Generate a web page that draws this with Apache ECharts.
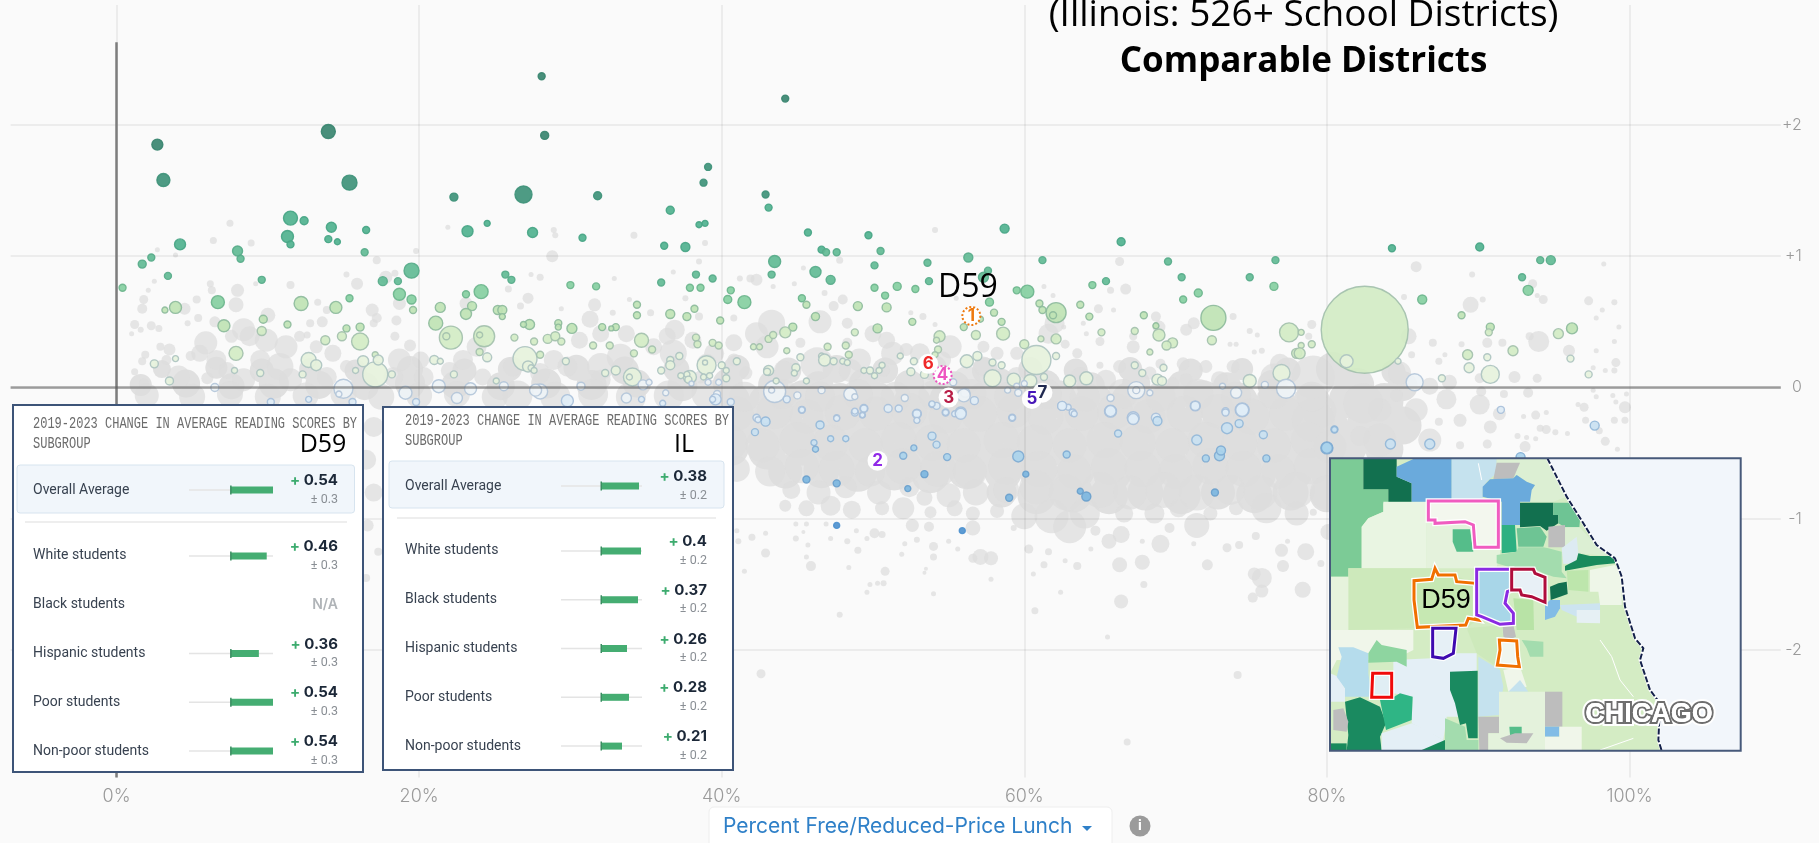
<!DOCTYPE html>
<html><head><meta charset="utf-8">
<style>html,body{margin:0;padding:0;background:#fafafa;overflow:hidden}#c{width:1819px;height:843px}</style>
<script src="https://cdn.jsdelivr.net/npm/echarts@6/dist/echarts.min.js"></script>
</head><body><div id="c"></div>
<script>
// ---- DATA (percent free/reduced lunch, change in score, bubble size) ----
const xTicks=[0,20,40,60,80,100];
const yTicks=[-2,-1,0,1,2];
const denseDistricts=[
[40.6,-.1,38],[43,-.12,38],[45.4,-.09,38],[47.8,-.11,38],[50.2,-.1,38],[52.6,-.12,38],[55,-.09,38],[57.4,-.1,38],[59.8,-.12,38],[62.2,-.09,38],[64.6,-.11,38],[67,-.1,38],[69.4,-.12,38],[71.8,-.09,38],[74.2,-.11,38],[76.6,-.1,38],[79,-.12,38],[81.4,-.09,38],[83.8,-.11,38],
[41.8,-.28,38],[44.2,-.3,38],[46.6,-.27,38],[49,-.29,38],[51.4,-.28,38],[53.8,-.3,38],[56.2,-.27,38],[58.6,-.28,38],[61,-.3,38],[63.4,-.27,38],[65.8,-.29,38],[68.2,-.28,38],[70.6,-.3,38],[73,-.27,38],[75.4,-.29,38],[77.8,-.28,38],[80.2,-.3,38],[82.6,-.27,38],[85,-.29,38],
[40.6,-.46,36],[43,-.48,38],[45.4,-.45,38],[47.8,-.47,38],[50.2,-.46,38],[52.6,-.48,38],[55,-.45,38],[57.4,-.46,38],[59.8,-.48,38],[62.2,-.45,38],[64.6,-.47,38],[67,-.46,38],[69.4,-.48,38],[71.8,-.45,38],[74.2,-.47,38],[76.6,-.46,38],[79,-.48,38],[81.4,-.45,38],[83.8,-.47,38],
[44.2,-.64,34],[46.6,-.63,36],[49,-.65,38],[51.4,-.64,38],[53.8,-.66,38],[56.2,-.63,38],[58.6,-.64,38],[61,-.66,38],[63.4,-.63,38],[65.8,-.65,38],[68.2,-.64,38],[70.6,-.66,38],[73,-.63,38],[75.4,-.65,38],[77.8,-.64,38],[80.2,-.66,38],
[58.5,-.8,30],[60.8,-.82,38],[63.2,-.8,40],[65.6,-.82,38],[68,-.8,36],[70.4,-.82,38],[72.8,-.8,34],[75.2,-.82,36],[77.6,-.8,36],[80,-.82,34],
[1.6,.02,22],[4.6,.03,28],[7.6,.01,26],[10.4,.03,30],[13.4,.02,28],[16.4,.01,28],[19.4,.03,30],[22.4,.02,28],[25.4,.01,28],[28.4,.03,30],[31.4,.02,30],[34.4,.03,28],[37.4,.01,30],[40.4,.03,30],[43.4,.02,30],[46.4,.01,30],[49.4,.03,30],[52.4,.02,30],[55.4,.01,30],[58.4,.03,30],[61.4,.02,30],[64.4,.01,28],[67.4,.03,28],[70.4,.02,28],[73.4,.01,28],[76.4,.02,30],[82,.02,34],[85,.01,30],
[3,.14,18],[6.6,.15,22],[9.6,.13,24],[12.8,.14,22],[15.8,.13,22],[19.4,.14,26],[23,.13,24],[26,.14,24],[30.4,.15,26],[33.6,.13,28],[37,.14,26],[41,.15,26],[44.4,.13,26],[47.6,.14,28],[50.8,.13,26],[54,.15,26],[57.4,.13,26],[60.4,.14,24],[63.4,.13,24],[67,.14,24],[71,.13,24],[74.4,.14,22],[77.4,.13,26],[80.4,.14,34],[84.4,.12,24]
];
const otherDistricts=[
[41,-.2,34],[43.5,-.18,36],[45.6,-.22,34],[48,-.19,36],[50.2,-.2,34],[52.4,-.18,36],[54.8,-.22,34],[57,-.2,36],[59.3,-.18,34],[61.4,-.22,36],[63.8,-.2,34],[66,-.18,36],[68.2,-.22,34],[70.6,-.2,36],[72.8,-.18,34],[75,-.22,36],[77.3,-.2,34],[79.5,-.18,34],
[40.5,-.42,36],[42.7,-.44,34],[45,-.4,36],[47.2,-.42,36],[49.5,-.44,34],[51.7,-.4,36],[53.9,-.42,36],[56,-.44,34],[58.5,-.4,36],[60.7,-.42,36],[63,-.44,34],[65.3,-.4,36],[67.5,-.42,36],[69.8,-.44,34],[72,-.4,36],[74.2,-.42,36],[76.5,-.44,34],[78.8,-.4,36],
[41,-.62,26],[43.2,-.64,30],[45.3,-.6,34],[47.6,-.62,36],[49.8,-.64,30],[52,-.6,36],[54.3,-.62,36],[56.4,-.64,34],[58.8,-.6,36],[61,-.62,36],[63.3,-.64,34],[65.6,-.6,36],[67.8,-.62,36],[70,-.64,34],[72.3,-.6,36],[74.5,-.62,36],[76.8,-.64,34],[79,-.6,36],
[44.6,-.78,18],[46.4,-.8,24],[48.2,-.76,22],[50.4,-.8,24],[52.4,-.76,20],[53.4,-.84,16],[55,-.82,24],[56.8,-.8,26],[58.8,-.78,26],[60.8,-.76,34],[62.8,-.8,36],[65,-.78,36],[67,-.8,34],[69.2,-.78,36],[71.4,-.8,36],[73.6,-.78,30],[75.6,-.8,34],[78,-.78,36],[80,-.8,34],
[44.2,-.9,12],[45.6,-.92,16],[47.2,-.9,20],[48.6,-.93,18],[50.6,-.92,14],[52,-.92,22],[53.8,-.95,12],[55.4,-.92,16],[56.6,-.96,14],[58.2,-.94,14],[60,-.98,26],[61.8,-.98,34],[64,-.96,30],[66.6,-.96,18],[68.6,-.96,20],[70.2,-.92,18],[72.3,-.96,14],[74,-.92,14],[76,-.92,30],[78,-.96,24],
[44.9,-1.04,5],[45.6,-1.04,5],[46.9,-1.04,5],[45.4,-1.1,4],[44.9,-1.15,6],[47.2,-1.15,5],[48.3,-1.17,6],[49,-1.24,7],[45.7,-1.2,5],[45.6,-1.29,5],[42.9,-1.26,9],[42,-1.14,7],[42.9,-1.11,5],[41.1,-1.17,6],[41,-1.09,5],[45.9,-1.36,10],[41.5,-1.4,5],[48.4,-1.37,5],[50.8,-1.4,9],[53.5,-1.38,4],[53.4,-1.41,4],[50.7,-1.49,6],[50.3,-1.49,5],[49.8,-1.5,5],[49.6,-1.56,5],[54,-1.57,5],[57.8,-1.46,5],[47.8,-1.73,6],[60.7,-1.7,7],[62.4,-1.56,5],[60.6,-1.42,5],[61.3,-1.35,7],[61.6,-1.25,7],[62.7,-1.32,5],[63.5,-1.36,8],[64.4,-1.23,5],[60.3,-1.23,9],[66.3,-1.35,15],[67.8,-1.33,15],[67.9,-1.5,7],[66.4,-1.63,14],[65.5,-1.9,5],[72.1,-1.35,11],[69,-1.19,18],[66.4,-1.12,17],[65.6,-1.17,15],[67.8,-1.17,5],[71.2,-1.19,5],[73.4,-1.22,9],[74.2,-1.2,8],[75.3,-1.13,8],[77,-1.24,13],[77.4,-1.17,5],[78.6,-1.25,17],[79.6,-1.34,7],[77.1,-1.36,12],[75.7,-1.45,20],[75.2,-1.42,13],[75.7,-1.55,13],[75.1,-1.6,10],[78.4,-1.54,16],[71.4,-1.05,25],[69.6,-1.07,10],[42.6,-2.18,9],[74.1,-2.19,8],[66.8,-2.7,7],[57.1,-1.29,16],[57.8,-1.3,14],[56.6,-1.3,9],[54,-1.21,9],[54,-1.29,7],[52.9,-1.16,6],[52.1,-1.19,5],[51.9,-1.27,5],[55,-1.17,5],[55.6,-1.23,5],[56.6,-1.07,15],[53.7,-1.06,10],[52.6,-1.05,13],[50.1,-1.11,10],[50.6,-1.12,7],[49.6,-1.15,5],[48.9,-1.09,5],[59.3,-1.07,6],[63,-1.06,33],[64.7,-1.09,10],[79.1,-.95,7],[80.1,-1.1,16],
[85.9,.92,11],[89.6,.86,6],[85.1,.69,6],[89.5,.63,16],[90.3,.67,6],[97.3,.66,9],[99,.65,6],[98.2,.59,5],[97.8,.53,5],[99.3,.46,5],[99,.35,5],[98.3,.94,5],[93.6,.79,9],[94.3,.67,9],[93.9,.7,5],[94,.35,21],[93.4,.39,8],[96,.28,12],[97.8,.28,5],[99.1,.19,9],[99,.13,6],[98.4,.13,5],[97.6,.15,5],[90.6,.34,10],[91.6,.34,8],[88.9,.33,6],[87,.34,8],[85.6,.25,7],[87.8,.25,5],[87.4,.2,7],[92.4,.08,12],[93.9,.07,9],[90.1,.07,10],[88.1,.04,15],[86.8,.01,17],[90.2,-.03,10],[91.7,-.05,8],[93.3,-.04,10],[97.6,-.02,5],[97.8,-.07,5],[98.9,-.06,5],[99.8,-.05,5],[99.1,-.11,5],[99.7,-.15,12],[96.6,-.13,5],[97,-.15,9],[99,-.25,7],[99.7,-.25,7],[97.1,-.25,7],[94.5,-.19,5],[93.8,-.21,9],[93,-.22,5],[94.1,-.31,7],[94.5,-.32,9],[95.1,-.34,6],[95.9,-.35,5],[98,-.33,7],[98.4,-.41,9],[99.2,-.47,5],[92.6,-.37,6],[93.2,-.38,5],[93.8,-.39,5],[93.1,-.45,11],[90.6,-.43,9],[90.8,-.3,13],[88.8,-.25,13],[90.1,-.13,20],[91.4,-.2,13],[88.8,-.44,8],[87.9,-.09,20],[85.9,-.17,23],[87.4,-.26,8],[86.8,-.4,23],[84.6,-.06,13],[83.5,-.17,23],[79.1,.08,43],[82.4,-.12,40],[79.1,-.25,43],[83.5,-.4,33],[80.2,-.45,33],[82.2,-.37,20],[84.8,.11,23],[85.4,.39,16],[79,.48,9],[78.8,.39,7],
[54.1,1.2,6],[66.3,.96,9],[61.3,.77,5],[66.7,.75,11],[65.7,.74,7],[61.9,.7,5],[64.9,.6,9],[65.9,.59,5],[52.5,.57,5],[53.3,.54,7],[55.5,.68,5],[54.1,.48,5],[63.9,.49,5],[62,.49,20],[61.6,.41,20],[62.6,.46,5],[64.1,.41,5],[65,.35,9],[62.7,.33,9],[63.5,.26,10],[67.2,.31,13],[67.2,.39,8],[68.7,.54,10],[68.9,.46,13],[70.7,.44,12],[71.2,.49,12],[73.8,.54,7],[73.6,.33,5],[74,.33,5],[74.9,.43,6],[75.4,.4,5],[75.2,.27,5],[75.7,.28,6],[55.1,.31,23],[57.3,.31,12],[58.2,.26,13],[53.1,.26,20],[59.5,.26,13],[57.3,.16,20],[54.6,.21,17],[52.2,.29,13],[65,.17,7],[66.3,.16,13],[65.4,.06,20],[70.5,.18,13],[72,.16,13],[73.8,.16,13],[70.7,.06,13],[72.9,.06,17],[68.3,.11,13],[69,.18,10],[69.8,.03,13],[63.7,.08,20],[59.5,.08,20],[56.2,.06,27],[54,.08,23],[76.5,.08,27],[76.9,.18,20],
[28.8,1,12],[28.9,1.2,6],[29,1.16,6],[34.2,1.16,7],[38.9,1.1,6],[38.5,.96,6],[36.8,.88,5],[27.4,.86,5],[28,.84,7],[32.9,.83,5],[25.9,.75,7],[27.2,.68,11],[26.7,.62,7],[33.9,.67,5],[29.4,.6,5],[31.6,.63,13],[31.3,.52,17],[32.8,.57,6],[35.3,.57,7],[37.6,.68,6],[38.5,.54,8],[36.9,.44,20],[36.4,.39,17],[33.7,.41,17],[32,.41,17],[30.6,.36,17],[28.9,.21,20],[40.8,.53,7],[42.3,.82,12],[41.9,.83,8],[41.2,.83,6],[43.3,.49,27],[42.3,.41,23],[43,.31,23],[40.8,.34,17],[39.5,.26,20],[46.5,.5,23],[47.4,.62,10],[48,.67,10],[47.8,.97,7],[45.4,.91,5],[44.8,.79,5],[43.4,.77,5],[46.8,.72,6],[48.3,.49,11],[50,.41,17],[50.9,.36,17],[48.3,.34,10],[45.2,.34,10],[38.1,.36,17],[35.5,.31,17],[33.3,.23,27],[32,.16,27],[36.8,.26,27],[39,.18,20],[40.8,.21,13],[46.3,.18,33],[49.1,.21,23],[51.3,.26,23],[44.1,.13,20],[48.5,.13,23],[50.7,.13,13],[41.6,.11,13],[38.6,.08,13],[32,.06,20],[29.8,.16,20],[28,.11,20],[26.2,.16,20],
[7.5,1.25,7],[6.4,1.12,7],[8.9,1.1,7],[2.7,1.05,5],[3.9,1.01,5],[19.8,1.04,6],[17.2,.97,8],[15.2,.86,6],[15.9,.79,12],[17.8,.84,13],[18.4,.87,7],[21.9,1.22,5],[2.5,.81,5],[6.2,.79,7],[6.3,.74,8],[8,.74,13],[9.2,.79,5],[11.5,.78,8],[2.1,.74,5],[1.8,.67,9],[1.7,.6,10],[5.3,.67,8],[4.5,.6,12],[7.9,.63,15],[10,.55,15],[13.3,.65,7],[13.9,.59,8],[16.9,.59,13],[17.2,.53,10],[18.5,.51,10],[18.7,.64,13],[5.4,.53,8],[1.2,.48,9],[1.6,.44,6],[1,.41,5],[2.3,.47,9],[2.8,.45,7],[4.7,.49,6],[6.5,.5,11],[12.8,.49,8],[13.6,.5,11],[12.1,.39,11],[12.6,.4,7],[17,.49,8],[18.4,.39,9],[19.4,.32,12],[8.4,.44,23],[8.8,.39,20],[7.6,.39,13],[5.9,.34,23],[5.5,.26,17],[6.6,.21,20],[3.5,.29,12],[2.9,.31,8],[1.9,.25,8],[1.7,.2,8],[1.2,.12,7],[4.1,.08,23],[3.3,.21,10],[6,.07,12],[1.8,.03,10],[4.9,.24,10],[9.9,.36,23],[11.2,.31,23],[9.5,.21,20],[10.8,.16,27],[13.2,.31,13],[14.3,.26,17],[11.5,.06,23],[8.4,.06,23],[7.3,.13,17],[13.9,.08,20],[15.2,.16,13],[18.7,.21,23],[18.3,.08,20],[20.1,.21,17],[20.3,.08,20],[22.9,.21,20],[23.1,.64,13],[23.8,.31,20],[22,.13,17],[24.2,.08,17],
[2,-.06,24],[5,-.07,26],[7.5,-.05,26],[10,-.07,26],[12.5,-.06,26],[15,-.05,26],[17.5,-.07,26],[20,-.06,26],[22.5,-.05,26],[25,-.07,26],[26.5,-.06,30],[29,-.07,30],[31.5,-.05,30],[34,-.07,30],[36.5,-.06,30],[39,-.05,30],[41.5,-.07,30],[44,-.05,30],[46.5,-.07,30],[49,-.05,30],[51.5,-.07,30],[54,-.06,30],[56.5,-.05,30],[59,-.07,30],[61.5,-.05,30],[64,-.07,30],[66.5,-.05,30],[69,-.07,30],[71.5,-.05,30],[74,-.07,30],[76.5,-.05,30],[79,-.07,30],
[17,-.3,20],[16.5,-.55,20],[17,-.8,18],[16.6,-1.05,12],[17.3,-1.25,8],[16.5,-1.45,8]
];
const illinoisDistricts=[
[2.7,1.85,11],[3.1,1.58,13],[14,1.95,14],[15.4,1.56,15],[28.1,2.37,7],[28.3,1.92,8],[44.2,2.2,7],[39.1,1.68,7],[38.8,1.56,7],[42.9,1.47,7],[43.1,1.37,7],[26.9,1.47,17],[22.3,1.45,8],[31.8,1.46,8],[36.6,1.35,8],
[11.5,1.29,14],[12.4,1.27,8],[14.2,1.22,10],[16.5,1.2,7],[11.3,1.15,12],[11.5,1.09,7],[14,1.13,7],[14.6,1.11,6],[16.4,1.03,7],[4.2,1.09,11],[2.3,.99,7],[1.7,.94,8],[8,1.04,10],[8.2,.98,7],[.4,.76,7],[3.4,.85,7],[9.6,.82,7],
[17.6,.81,9],[18.6,.81,7],[19.5,.89,15],[18.7,.71,12],[19.5,.67,9],[19.6,.59,7],[15.4,.68,7],[14.5,.61,12],[12.2,.64,14],[6.7,.65,13],[3.9,.61,12],[3.2,.59,6],[7.1,.47,12],[9.7,.52,8],[9.6,.43,9],[11.3,.48,7],[7.9,.26,14],[3.9,.22,6],[2.5,.18,8],[3.5,.05,8],[7.8,.13,6],[9.5,.11,7],[6.5,0,8],[13.8,.36,9],[15.2,.45,7],[16.1,.46,8],[14.9,.39,9],[16.1,.35,17],[12.7,.21,15],[13.2,.17,11],[12.3,.1,7],[16.3,.2,11],[17.1,.25,6],[17.3,.21,10],[17.1,.1,25],[18.2,.1,7],[15.8,.13,6],[15,-.01,19],[14.7,-.05,6],[15.6,-.11,7],[19.1,-.04,13],[19.8,-.11,7],[12.7,-.09,6],[10.2,-.11,7],
[21.4,.61,10],[21.1,.49,14],[22.1,.38,23],[21.8,.39,7],[24.3,.39,21],[24,.4,6],[21,.21,9],[21.4,.2,6],[24,.27,7],[24.5,.23,9],[22.3,.1,7],[21.3,.01,13],[23.4,-.01,12],[22.5,-.08,11],[25.1,.05,6],[24.1,.73,14],[23.1,.71,7],[23.5,.62,9],[23.1,.56,11],[25.2,.59,9],
[23.2,1.19,11],[24.5,1.25,6],[27.5,1.18,10],[30.8,1.14,7],[38.5,1.24,6],[38.9,1.25,6],[36.2,1.08,7],[37.6,1.07,9],[25.7,.86,7],[26.1,.82,7],[30,.78,7],[31.7,.77,7],[36,.8,7],[38.3,.86,7],[39.4,.83,7],[37.9,.76,7],[38.6,.76,7],[40.6,.74,7],[40.4,.67,8],[41.5,.65,13],[43.5,.96,12],[43.3,.86,7],[45.7,1.18,7],[46.6,1.05,7],[46.9,1.03,7],[47.6,1.03,7],[49.7,1.16,7],[50.5,1.04,7],[50.1,.93,7],[46.2,.88,11],[47.2,.82,9],[50.1,.76,7],[51.6,.77,8],[50.8,.7,7],[50.9,.61,9],[49,.62,9],[45.3,.68,7],[45.6,.63,7],[46.2,.54,8],[34.4,.63,7],[34.4,.55,7],[36.6,.56,9],[37.7,.54,8],[38.2,.6,7],[39.9,.51,7],[25.5,.59,9],[25.5,.54,6],[27.3,.48,10],[26.9,.48,6],[29.2,.49,7],[29.2,.46,6],[30.1,.45,10],[32.1,.46,7],[33,.46,7],[32.7,.45,5],[26.3,.38,7],[27.6,.35,7],[28.5,.37,9],[29,.39,9],[29.4,.35,7],[34.7,.36,14],[31.5,.32,7],[32.6,.32,7],[27,.22,24],[27.2,.16,11],[28,.25,7],[29.7,.2,7],[27.4,.15,6],[27.6,.13,6],[34.2,.26,7],[35.4,.29,7],[38.3,.38,7],[38.4,.33,7],[39.4,.34,7],[39.8,.32,7],[37.2,.24,7],[36.6,.21,7],[36.6,.17,9],[39,.17,19],[38.9,.19,5],[33,.13,9],[32.3,.11,7],[34.1,.08,18],[33.9,.08,6],[36,.13,7],[34.8,.02,10],[35.2,.04,6],[30.7,.01,8],[28,-.03,15],[27.7,-.02,12],[25.6,.01,9],[29.8,-.1,12],[33.7,-.08,10],[36.3,-.04,6],[34.7,-.09,6],[36.1,-.12,6],[37.9,.08,13],[37.7,.1,6],[37.3,.09,6],[37.8,.06,7],[38.8,.08,6],[39.2,.09,6],[39.1,.04,6],[39.8,.04,6],[40,.17,7],[40.3,.13,6],[40.3,.07,7],[38,.03,5],[39.7,-.05,7],[39.6,-.09,11],[39.4,-.09,6],[40.6,-.11,7],
[41,.2,7],[42.1,.31,6],[42.5,.31,6],[43.1,.37,7],[43.4,.4,7],[44.2,.42,11],[44.7,.46,8],[44.3,.28,6],[45.2,.23,7],[43.1,.13,10],[43,.12,7],[44.9,.15,8],[44.8,.11,6],[45.6,.05,6],[43.5,-.03,22],[43.6,.05,6],[43.3,-.02,6],[45,-.06,7],[44.3,-.09,7],[46.6,-.02,7],[48.5,-.05,13],[48.8,-.07,6],[45.3,-.17,7],[46.6,.24,6],[46.8,.21,12],[47,.31,7],[47.4,.2,7],[48.2,.32,7],[48.4,.25,7],[48,.2,6],[48.3,.19,6],[48.8,.42,7],[50.3,.45,9],[49.4,.13,6],[49.8,.13,7],[50.1,.09,6],[50.4,.13,6],[50.6,.17,6],[48.8,-.19,7],[49.4,-.16,8],[49.3,-.21,6],[51,-.16,8],[47.6,-.23,6],[42.3,-.23,7],[42.9,-.25,7],
[58.7,1.21,9],[66.4,1.11,8],[56.3,.99,9],[53.6,.95,7],[61.2,.97,7],[69.5,.96,7],[76.6,.97,7],[57.6,.89,7],[70.4,.84,7],[74.9,.84,7],[76.5,.77,8],[57.3,.84,10],[53.7,.81,7],[52.8,.75,7],[59.5,.74,7],[60.2,.73,13],[64.5,.78,7],[65.4,.81,7],[71.5,.72,8],[70.5,.67,7],[57.7,.65,8],[61,.64,7],[61.2,.59,7],[62.1,.57,20],[61.9,.55,7],[63.7,.63,7],[64.3,.54,7],[67.9,.55,7],[72.5,.53,25],[58,.57,7],[58.5,.5,7],[57.1,.52,6],[52.6,.5,7],[56,.46,7],[56.8,.4,9],[58.6,.41,13],[54.4,.39,11],[54.2,.36,6],[54.3,.29,7],[54.1,.25,6],[65.1,.42,7],[67.3,.43,7],[68.7,.47,6],[68.9,.4,12],[69.8,.34,10],[69.4,.32,9],[72.4,.36,9],[77.5,.42,19],[61.1,.37,6],[62.1,.37,10],[60,.33,9],[60.8,.21,29],[62.1,.24,7],[56.9,.24,9],[56.2,.2,13],[57.9,.19,7],[58.5,.17,7],[57.9,.07,17],[59.3,.06,13],[60.4,.05,13],[61.3,.08,7],[63,.05,12],[64.1,.07,13],[68.3,.27,6],[67.3,.17,7],[67.8,.11,7],[69.2,.15,7],[68.8,.06,11],[69.1,.05,9],[67.4,-.02,17],[67.4,-.02,7],[68.3,-.04,6],[73.1,.01,6],[74.9,.05,13],[75.9,.02,7],[74,-.04,11],[77,.11,17],[77.3,-.01,19],[78,.26,10],[51.8,.24,6],[52.7,.2,7],[52.5,.12,8],[53.4,.1,8],[55.3,.04,7],[56.1,-.04,9],[56,-.06,13],[56.7,-.1,8],[52.1,-.08,7],[53.9,-.13,6],[54.2,-.14,7],[54.8,-.19,7],[52.9,-.2,9],[55.8,-.19,11],[55.4,-.2,6],[58.9,-.02,6],[59.5,.01,6],[60,.03,6],[59.6,-.04,7],[59.2,-.23,7],[62.5,-.14,9],[62.9,-.15,6],[63.2,-.19,7],[65.7,-.08,7],[65.7,-.18,12],[71.3,-.14,10],[73.3,-.18,7],[74.4,-.17,14],[67.2,-.23,12],[68.7,-.23,9],
[84.3,1.06,7],[90.1,1.07,8],[94.1,.97,7],[94.8,.97,9],[92.9,.84,7],[93.3,.74,10],[86.3,.67,9],[88.9,.55,7],[90.8,.46,8],[90.7,.42,7],[96.2,.45,11],[95.3,.41,10],[92.3,.28,10],[89.3,.25,10],[90.6,.23,7],[89.4,.15,10],[90.8,.1,18],[96.1,.22,7],[97.3,.1,7],[87.6,.07,7],[85.8,.04,17],[82.5,.44,87],[81.3,.2,13],[84.7,.2,6],[78.3,.42,6],[79,.33,7],[78.3,.32,6],[78.2,.26,11],[91.5,-.17,7],[97.7,-.29,9],[80.5,-.32,7],[80,-.46,12],[84.2,-.43,10],[86.8,-.43,10],[92.8,-.53,9],
[42.4,-.245,6],[42.9,-.26,9],[42.2,-.34,7],[45.3,-.17,6],[46.5,-.285,8],[47.6,-.235,6],[48.8,-.18,6],[49.4,-.16,7],[49.3,-.21,5],[51.7,-.16,7],[52.9,-.2,8],[52.9,-.25,6],[53.9,-.125,6],[54.8,-.19,6],[55.8,-.2,11],[59.2,-.23,6],[62.5,-.14,9],[63.3,-.2,6],[65.7,-.18,11],[67.2,-.24,11],[68.8,-.255,9],[71.3,-.14,9],[73.3,-.19,7],[74.4,-.17,13],[66.2,-.35,7],[73.4,-.31,11],[74.2,-.275,8],[75.8,-.36,8],[71.4,-.4,10],[80.5,-.32,6],[80,-.46,11],[46.1,-.42,6],[46.2,-.47,6],[47.2,-.39,6],[48.2,-.39,6],[53.9,-.37,8],[54.2,-.435,7],[52.7,-.46,6],[52,-.52,7],[54.9,-.53,7],[59.6,-.525,11],[60.1,-.66,6],[62.8,-.51,7],[72,-.54,7],[72.9,-.52,10],[73,-.48,9],[76,-.54,7],[72.6,-.8,7],[53.4,-.66,7],[45.6,-.7,7],[47.6,-.73,7],[52.3,-.77,6],[59,-.84,7],[63.7,-.79,6],[64.1,-.83,9],[47.6,-1.05,6],[55.9,-1.09,6]
];
const comparableLabels=['1','2','3','4','5','6','7'];
const comparableX=[56.5,50.3,55,54.6,60.5,53.65,61.2];
const comparableY=[.545,-.557,-.077,.095,-.087,.18,-.04];
const comparableColors=['#ee7a10','#8a1ee6','#b4103c','#ee55c0','#3c0ab4','#ee1c1c','#131c46'];

const subgroups=['White students','Black students','Hispanic students','Poor students','Non-poor students'];
const overallLabel=['Overall Average'];
const d59Overall=[0.54], d59OverallErr=[0.3];
const d59Change=[0.46,null,0.36,0.54,0.54], d59Err=[0.3,null,0.3,0.3,0.3];
const ilOverall=[0.38], ilOverallErr=[0.2];
const ilChange=[0.4,0.37,0.26,0.28,0.21], ilErr=[0.2,0.2,0.2,0.2,0.2];

// Map of the comparable districts, drawn on its own 90..1322 x 55..932 axes
const mapLand=[[742,55],[800,170],[850,250],[890,315],[945,355],[965,410],[975,500],[1005,595],[1030,625],[1020,660],[1050,750],[1080,790],[1075,900],[1085,932],[90,932],[90,55]];
const mapRegions=[
['#7ccb96',[[90,55],[190,55],[190,148],[265,148],[265,185],[250,190],[250,215],[205,235],[185,260],[185,385],[145,385],[145,410],[90,410]]],
['#e9f5e2',[[185,260],[205,235],[250,215],[250,185],[380,185],[380,385],[185,385]]],
['#e4f2dc',[[380,240],[600,240],[600,345],[590,380],[530,385],[380,385]]],
['#12704f',[[190,55],[290,55],[290,110],[335,130],[335,185],[265,185],[265,148],[190,148]]],
['#6aaadc',[[290,80],[345,55],[455,55],[455,185],[335,185],[335,130],[290,110]]],
['#c5e2ee',[[455,55],[590,55],[590,100],[560,125],[548,145],[548,185],[455,185]]],
['#dcefd3',[[590,55],[742,55],[800,170],[760,185],[660,185],[695,150],[705,135],[680,125],[650,105],[590,100]]],
['#bdbdbd',[[590,68],[660,68],[640,115],[580,118]]],
['#6aaadc',[[548,140],[570,118],[640,115],[650,105],[680,125],[705,135],[695,150],[690,185],[660,185],[660,255],[605,255],[605,185],[548,170]]],
['#12704f',[[660,188],[760,188],[760,225],[775,225],[775,250],[740,272],[720,258],[660,262]]],
['#6ec494',[[760,188],[810,188],[840,240],[838,262],[795,262],[775,250],[775,225],[760,225]]],
['#dcefd3',[[795,262],[838,262],[890,315],[945,350],[835,340],[785,325]]],
['#6ec494',[[650,265],[720,260],[740,290],[730,320],[655,320]]],
['#bdbdbd',[[745,260],[795,255],[795,322],[745,322]]],
['#2eb082',[[605,255],[645,255],[650,335],[605,340]]],
['#55bd8a',[[458,268],[510,268],[520,335],[470,335],[458,305]]],
['#a3dcae',[[590,345],[650,335],[655,322],[730,322],[745,325],[785,335],[785,395],[800,415],[760,410],[730,400],[700,385],[640,385],[590,370]]],
['#ddebf2',[[785,325],[830,290],[835,340],[825,370],[790,372]]],
['#188a5c',[[795,378],[830,360],[835,340],[870,348],[945,348],[945,370],[890,375],[795,392]]],
['#bde6ac',[[800,392],[865,390],[865,455],[805,450]]],
['#eef6e8',[[870,390],[945,375],[965,410],[965,495],[900,495],[895,455],[870,455]]],
['#12704f',[[750,440],[775,430],[800,425],[803,462],[780,470],[752,480]]],
['#82bce6',[[735,495],[750,480],[780,480],[780,505],[765,530],[735,540]]],
['#cde4f0',[[780,495],[900,490],[900,512],[840,510],[830,530],[785,510]]],
['#e6f0f4',[[830,510],[900,510],[900,550],[830,548]]],
['#cde9bb',[[145,385],[400,385],[530,430],[530,540],[500,565],[350,565],[145,570]]],
['#e6f3dc',[[90,410],[145,410],[145,570],[90,570]]],
['#f0f6ea',[[90,570],[340,570],[340,630],[280,660],[110,660],[90,700]]],
['#cde9bb',[[500,565],[605,555],[610,600],[590,680],[530,640]]],
['#b8e3a6',[[640,475],[700,480],[702,570],[650,570]]],
['#a3dcae',[[665,600],[730,605],[730,650],[690,650],[680,625]]],
['#e4eff6',[[280,660],[395,655],[430,660],[465,640],[530,640],[530,830],[440,830],[430,900],[335,850],[338,770],[280,760]]],
['#e4eff6',[[90,700],[115,710],[135,745],[135,785],[90,785]]],
['#b5dcec',[[115,622],[160,622],[205,640],[205,700],[215,770],[135,770],[135,745],[110,710],[125,650]]],
['#8ed5a0',[[205,640],[230,600],[245,615],[320,630],[320,680],[290,665],[205,668]]],
['#1a8a60',[[135,785],[180,772],[240,800],[258,850],[240,890],[245,932],[140,932],[145,885]]],
['#2fb585',[[240,780],[275,775],[300,760],[338,770],[335,840],[258,870]]],
['#e4eff6',[[245,880],[335,850],[380,870],[430,900],[430,932],[245,932]]],
['#bdbdbd',[[100,810],[130,805],[145,845],[140,875],[100,870]]],
['#188a5c',[[90,910],[140,910],[140,932],[90,932]]],
['#188a5c',[[360,932],[435,900],[435,932]]],
['#a3dcae',[[435,835],[495,860],[500,900],[535,900],[535,932],[435,932]]],
['#1a8a60',[[450,695],[533,692],[533,895],[505,895],[498,850],[480,855],[465,790],[450,750]]],
['#c5e2ee',[[535,650],[600,690],[610,740],[597,825],[535,830]]],
['#bdbdbd',[[535,830],[597,830],[597,880],[565,880],[565,932],[538,932]]],
['#f0f6ea',[[610,690],[660,680],[680,740],[625,755]]],
['#c5e2ee',[[625,755],[660,720],[685,755]]],
['#e4f2dc',[[597,755],[735,755],[735,932],[565,932],[565,880],[597,880]]],
['#bdbdbd',[[735,755],[787,755],[787,860],[735,860]]],
['#82bce6',[[735,860],[778,860],[778,890],[735,890]]],
['#f0f6ea',[[778,860],[845,860],[845,932],[735,932],[735,890],[778,890]]],
['#55bd8a',[[628,860],[665,860],[665,885],[630,885]]],
['#bdbdbd',[[600,895],[645,880],[700,880],[680,910],[620,908]]],
['#bdbdbd',[[608,560],[640,555],[648,590],[625,600],[610,590]]]
];
const mapOutlines=[
['#f05cc0','#f3f7ee',[[385,183],[595,183],[595,322],[525,322],[520,255],[495,245],[405,250],[405,240],[385,240]]],
['#f07000','#c6e8b2',[[405,385],[415,405],[465,405],[470,425],[527,430],[527,530],[535,540],[505,535],[497,555],[352,562],[342,480],[342,422],[395,418]]],
['#8a2be2','#a8d6e8',[[530,388],[635,388],[635,450],[622,455],[615,490],[640,520],[640,550],[600,553],[545,530],[530,525]]],
['#b00d3c','#e8f0f6',[[635,388],[700,388],[705,400],[735,412],[735,487],[695,470],[665,465],[660,450],[635,450]]],
['#3f0ab0','#e6f0f6',[[398,565],[468,565],[460,640],[430,655],[398,650]]],
['#f07000','#f0f6ee',[[598,600],[650,603],[653,650],[658,680],[592,675],[600,630]]],
['#f00a0a','#e0eef4',[[218,700],[275,700],[275,772],[215,772]]]
];
const mapRivers=[[[900,600],[935,650],[960,720],[1000,770]],[[900,930],[1000,895]],[[535,70],[545,120]]];
const mapCoast=[[742,55],[800,170],[850,250],[890,315],[945,355],[965,410],[975,500],[1005,595],[1030,625],[1020,660],[1050,750],[1080,790],[1075,900],[1085,932]];

const xLabelColor='#9a9a9a';
// ---- BUBBLE COLOUR BANDS ----
const bands=[
 [1.75,9,'#3a8570','#3a8570'],[1.4,1.75,'#3f9379','#3f9379'],[1.05,1.4,'#50b28f','#48a585'],[.8,1.05,'#62bb95','#58ab8a'],
 [.65,.8,'#86cfa1','#6db58d'],[.45,.65,'#bfe3b4','#8dbb9c'],[.25,.45,'#d2ebc4','#a3c0ad'],[.05,.25,'#e6f2dc','#adc3c0'],
 [-.08,.05,'#eef3f6','#b3c5d9'],[-.25,-.08,'#e0edf6','#a8c0da'],[-.45,-.25,'#c9e1f1','#92b7d8'],[-.65,-.45,'#a9d3ec','#7fabd2'],
 [-.9,-.65,'#7cb6e0','#6a9fcc'],[-9,-.9,'#4f93cf','#4f93cf']];
function bandSeries(big){
 return bands.map(b=>({type:'scatter',xAxisIndex:0,yAxisIndex:0,z:3,silent:true,progressive:0,
   data:illinoisDistricts.filter(d=>d[1]>=b[0]&&d[1]<b[1]&&(big?d[2]>=16:d[2]<16)),
   symbolSize:d=>d[2],itemStyle:{color:b[2],borderColor:b[3],borderWidth:1.4,opacity:.92}}));
}
// ---- PANEL HELPERS ----
function barRenderer(xMin,xMax){
 return function(p,api){
  const v=api.value(0),i=api.value(1); if(isNaN(v))return null;
  const z=api.coord([0,i]),e=api.coord([v,i]),a=api.coord([xMin,i]),b=api.coord([xMax,i]);
  return {type:'group',children:[
   {type:'line',shape:{x1:a[0],y1:a[1],x2:b[0],y2:b[1]},style:{stroke:'#e4e4e4',lineWidth:1.5}},
   {type:'rect',shape:{x:z[0],y:z[1]-3.5,width:e[0]-z[0],height:7},style:{fill:'#45ad72'}},
   {type:'rect',shape:{x:z[0]-.5,y:z[1]-4.5,width:1.5,height:9},style:{fill:'#3b8d62'}}]};
 };
}
const valueRich={p:{fontFamily:'Inter',fontSize:15,fontWeight:700,color:'#3cab6e',align:'right',lineHeight:19},
 v:{fontFamily:'Inter',fontSize:15,fontWeight:700,color:'#1c2838',align:'right',lineHeight:19},
 e:{fontFamily:'Roboto',fontSize:12.5,color:'#8a8f95',align:'right',lineHeight:19},
 na:{fontFamily:'Inter',fontSize:14,fontWeight:600,color:'#b0b4b8',align:'right'}};
const grids=[],xAxes=[],yAxes=[],panelSeries=[];
function addPanelGrid(cats,vals,errs,left,width,top,height,xMin,xMax,labelMargin,valueMargin){
 const g=grids.length+1;
 grids.push({left,width,top,height});
 xAxes.push({gridIndex:g,type:'value',min:xMin,max:xMax,show:false});
 const base={gridIndex:g,type:'category',data:cats,inverse:true,z:30,axisLine:{show:false},axisTick:{show:false},splitLine:{show:false}};
 const yi=yAxes.length+1;
 yAxes.push(Object.assign({},base,{position:'left',axisLabel:{interval:0,margin:labelMargin,align:'left',fontFamily:'Roboto',fontSize:14,color:'#384250'}}));
 yAxes.push(Object.assign({},base,{position:'right',axisLabel:{interval:0,margin:valueMargin,align:'right',rich:valueRich,
   formatter:(n,i)=>vals[i]==null?'{na|N/A}':`{p|+ }{v|${vals[i]}}\n{e|± ${errs[i]}}`}}));
 panelSeries.push({type:'custom',xAxisIndex:g,yAxisIndex:yi,z:30,silent:true,clip:false,renderItem:barRenderer(xMin,xMax),
   data:vals.map((v,i)=>[v==null?NaN:v,i]),encode:{x:0,y:1}});
}
addPanelGrid(overallLabel,d59Overall,d59OverallErr,189,84,466,48,-.53,.54,156,65);
addPanelGrid(subgroups,d59Change,d59Err,189,84,531.5,244,-.53,.54,156,65);
addPanelGrid(overallLabel,ilOverall,ilOverallErr,561,81,462,48,-.4,.41,156,65);
addPanelGrid(subgroups,ilChange,ilErr,561,81,526.5,244,-.4,.41,156,65);
// map grid
const mg=grids.length+1;
grids.push({left:1330,width:410.7,top:458.3,height:292.4});
xAxes.push({gridIndex:mg,type:'value',min:90,max:1322,show:false});
yAxes.push({gridIndex:mg,type:'value',min:55,max:932,inverse:true,show:false});
const mapFrame=[[90,55],[1322,55],[1322,932],[90,932]];
function mapItems(){
 const pts=(api,a)=>a.map(q=>api.coord(q));
 const list=[];
 list.push(api=>({type:'polygon',shape:{points:pts(api,mapFrame)},style:{fill:'#f2f6fb'}}));
 list.push(api=>({type:'polygon',shape:{points:pts(api,mapLand)},style:{fill:'#d4ecc4'}}));
 mapRegions.forEach(r=>list.push(api=>({type:'polygon',shape:{points:pts(api,r[1])},style:{fill:r[0]}})));
 mapRivers.forEach(r=>list.push(api=>({type:'polyline',shape:{points:pts(api,r)},style:{stroke:'#fff',fill:null,lineWidth:1}})));
 list.push(api=>({type:'polyline',shape:{points:pts(api,mapCoast)},style:{stroke:'#fff',fill:null,lineWidth:3}}));
 list.push(api=>({type:'polyline',shape:{points:pts(api,mapCoast)},style:{stroke:'#13204a',fill:null,lineWidth:2,lineDash:[6,2]}}));
 mapOutlines.forEach(r=>{
  list.push(api=>({type:'polygon',shape:{points:pts(api,r[2])},style:{fill:r[1],stroke:'#fff',lineWidth:5.5,lineJoin:'miter'}}));
  list.push(api=>({type:'polygon',shape:{points:pts(api,r[2])},style:{fill:null,stroke:r[0],lineWidth:3,lineJoin:'miter'}}));
 });
 list.push(api=>({type:'polygon',shape:{points:pts(api,mapFrame)},style:{fill:null,stroke:'#47597a',lineWidth:2}}));
 return list;
}
const mapDraw=mapItems();
const mapSeries={type:'custom',xAxisIndex:mg,yAxisIndex:mg*2-1,z:30,silent:true,clip:false,
 data:mapDraw.map((f,i)=>[i]),encode:{x:0},renderItem:(p,api)=>mapDraw[api.value(0)](api)};

// ---- STATIC TEXT / BOXES ----
const panelStroke='#3d5478';
const G=[
 {type:'rect',z:10,silent:true,shape:{x:13,y:405,width:350,height:367},style:{fill:'#fff',stroke:panelStroke,lineWidth:2}},
 {type:'rect',z:10,silent:true,shape:{x:383,y:407,width:350,height:363},style:{fill:'#fff',stroke:panelStroke,lineWidth:2}},
 {type:'rect',z:11,silent:true,shape:{x:17,y:465,width:337.5,height:48,r:3},style:{fill:'#f1f6fb',stroke:'#d7e4ef',lineWidth:1}},
 {type:'rect',z:11,silent:true,shape:{x:389,y:461,width:335,height:47,r:3},style:{fill:'#f1f6fb',stroke:'#d7e4ef',lineWidth:1}},
 {type:'line',z:11,silent:true,shape:{x1:25,y1:522,x2:347,y2:522},style:{stroke:'#dddddd',lineWidth:1.2}},
 {type:'line',z:11,silent:true,shape:{x1:397,y1:518,x2:716,y2:518},style:{stroke:'#dddddd',lineWidth:1.2}},
];
function txt(x,y,text,font,fill,align,extra){
 return Object.assign({type:'text',z:50,silent:true,x,y,style:{text,font,fill,align:align||'left',verticalAlign:'middle'}},extra||{});
}
const monoFont='12px "Liberation Mono"';
const panelTitle='2019-2023 CHANGE IN AVERAGE READING SCORES BY';
[[33,424,panelTitle],[33,444,'SUBGROUP'],[405,421,panelTitle],[405,441,'SUBGROUP']].forEach(t=>{
 G.push(txt(t[0],t[1],t[2],monoFont,'#6c6c6c','left',{scaleY:1.35}));
});
G.push(txt(323,445,'D59','25px "Open Sans"','#000','center'));
G.push(txt(684,445,'IL','25px "Open Sans"','#000','center'));
G.push(txt(1303.6,15,'(Illinois: 526+ School Districts)','37px "Open Sans"','#000','center'));
G.push(txt(1303.6,62,'Comparable Districts','700 35px "Open Sans"','#000','center'));
G.push(txt(968,288,'D59','32px "Open Sans"','#000','center'));
G.push(txt(1446,601,'D59','27px "Liberation Sans"','#000','center'));
const chicagoStyle=(stroke,lw)=>({style:{text:'CHICAGO',font:'700 27px "Liberation Sans"',fill:'#fff',stroke,lineWidth:lw,align:'center',verticalAlign:'middle'}});
G.push(Object.assign(txt(1649,715,'CHICAGO','',''),chicagoStyle('#ffffff',8)));
G.push(Object.assign(txt(1649,715,'CHICAGO','',''),chicagoStyle('#6e6e6e',4)));
G.push(Object.assign(txt(1649,715,'CHICAGO','',''),{z:51,style:{text:'CHICAGO',font:'700 27px "Liberation Sans"',fill:'#fff',align:'center',verticalAlign:'middle'}}));
G.push({type:'rect',z:10,silent:true,shape:{x:709,y:807,width:403,height:50,r:5},style:{fill:'#fff',stroke:'#eeeeee',lineWidth:1}});
G.push(txt(723,827,'Percent Free/Reduced-Price Lunch','21px Inter','#2f80c8','left'));
G.push({type:'polygon',z:50,silent:true,shape:{points:[[1082,826],[1092,826],[1087,831]]},style:{fill:'#2f80c8'}});
G.push({type:'circle',z:50,silent:true,shape:{cx:1140,cy:826,r:10.5},style:{fill:'#9b9b9b'}});
G.push(txt(1140,826,'i','700 14px Inter','#fff','center'));

const option={
 animation:false,backgroundColor:'#fafafa',
 graphic:{elements:G},
 grid:[{left:10.59,width:1770.2,top:5,height:772.5},...grids],
 xAxis:[{gridIndex:0,type:'value',min:-7,max:110,z:2,
   axisLine:{show:false},axisTick:{show:false,customValues:xTicks},
   splitLine:{show:true,lineStyle:{color:'rgba(0,0,0,0.055)',width:2}},
   axisLabel:{customValues:xTicks,margin:10,formatter:'{value}%',fontFamily:'Inter',fontWeight:300,fontSize:18,color:xLabelColor}},...xAxes],
 yAxis:[{gridIndex:0,type:'value',position:'right',min:-2.97,max:2.913,z:2,
   axisLine:{show:false},axisTick:{show:false,customValues:yTicks},
   splitLine:{show:true,lineStyle:{color:'rgba(0,0,0,0.055)',width:2}},
   axisLabel:{customValues:yTicks,margin:21,align:'right',fontFamily:'Inter',fontWeight:300,fontSize:16,color:xLabelColor,
     formatter:v=>v>0?'+'+v:String(v)}},...yAxes],
 series:[
  {type:'scatter',xAxisIndex:0,yAxisIndex:0,z:1,silent:true,progressive:0,data:denseDistricts,symbolSize:d=>d[2],
   itemStyle:{color:'#e0e0e0',opacity:1}},
  {type:'scatter',xAxisIndex:0,yAxisIndex:0,z:1,silent:true,progressive:0,data:otherDistricts,symbolSize:d=>d[2],
   itemStyle:{color:'#dcdcdc',opacity:.72}},
  {type:'line',xAxisIndex:0,yAxisIndex:0,z:2,data:[],silent:true,
   markLine:{silent:true,symbol:'none',label:{show:false},animation:false,data:[
    [{coord:[0,2.63],lineStyle:{color:'#7d7d7d',width:2.5,type:'solid'}},{coord:[0,-2.97]}],
    [{coord:[-7,0],lineStyle:{color:'rgba(90,90,90,.55)',width:2.5,type:'solid'}},{coord:[110,0]}]
   ]}},
  ...bandSeries(true),...bandSeries(false),
  {type:'scatter',xAxisIndex:0,yAxisIndex:0,z:5,silent:true,
   data:comparableX.map((x,i)=>({value:[x,comparableY[i]],name:comparableLabels[i],
     symbolSize:(i===0||i===3)?18:20,
     itemStyle:(i===0||i===3)?{color:'#fff',borderColor:comparableColors[i],borderWidth:2,borderType:'dotted',opacity:1}:{color:'#fff',opacity:.95},
     label:{color:comparableColors[i]}})),
   label:{show:true,position:'inside',formatter:p=>p.name,fontFamily:'Inter',fontWeight:700,fontSize:17}},
  ...panelSeries,mapSeries
 ]
};
echarts.init(document.getElementById('c')).setOption(option);
</script></body></html>
